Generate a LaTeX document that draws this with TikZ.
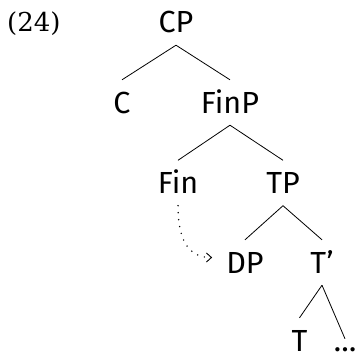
\documentclass[tikz,border=0pt]{standalone}
\usepackage{fontspec}
\newfontfamily\fira{Fira Sans}
\newfontfamily\numfont{DejaVu Serif}
\usetikzlibrary{arrows.meta}
\begin{document}
\begin{tikzpicture}[x=1pt,y=1pt,
  lbl/.style={font=\fira\fontsize{30.5}{34}\selectfont, anchor=base, text height=21pt, text depth=0pt, inner xsep=4pt, inner ysep=12pt},
  branch/.style={line width=0.8pt},
  move/.style={line width=1.6pt, line cap=round, dash pattern=on 0pt off 7pt, -{Straight Barb[length=5pt,width=9pt,line width=0.9pt]}}]
\useasboundingbox (0,0) rectangle (355,354);
\node[anchor=west, font=\numfont\fontsize{26}{30}\selectfont, inner sep=0pt] (num) at (7,330.5) {(24)};
\node[lbl] (CP) at (176,321) {CP};
\node[lbl] (C) at (122,241) {C};
\node[lbl] (FinP) at (230,241) {FinP};
\node[lbl] (Fin) at (178,160.5) {Fin};
\node[lbl] (TP) at (283,160.5) {TP};
\node[lbl] (DP) at (245,81) {DP};
\node[lbl] (Tbar) at (322,81) {T’};
\node[lbl] (T) at (299.5,3) {T};
\node[lbl, text height=0pt] (dots) at (345,3) {…};
\draw[branch] (CP.south) -- (C.north);
\draw[branch] (CP.south) -- (FinP.north);
\draw[branch] (FinP.south) -- (Fin.north);
\draw[branch] (FinP.south) -- (TP.north);
\draw[branch] (TP.south) -- (DP.north);
\draw[branch] (TP.south) -- (Tbar.north);
\draw[branch] (Tbar.south) -- (T.north);
\draw[branch] (Tbar.south) -- (dots.north);
\draw[move, shorten >=10pt] (Fin.south) .. controls ([yshift=-40pt]Fin.south) and ([xshift=-30pt,yshift=5pt]DP.west) .. ([yshift=5pt]DP.west);
\end{tikzpicture}
\end{document}
